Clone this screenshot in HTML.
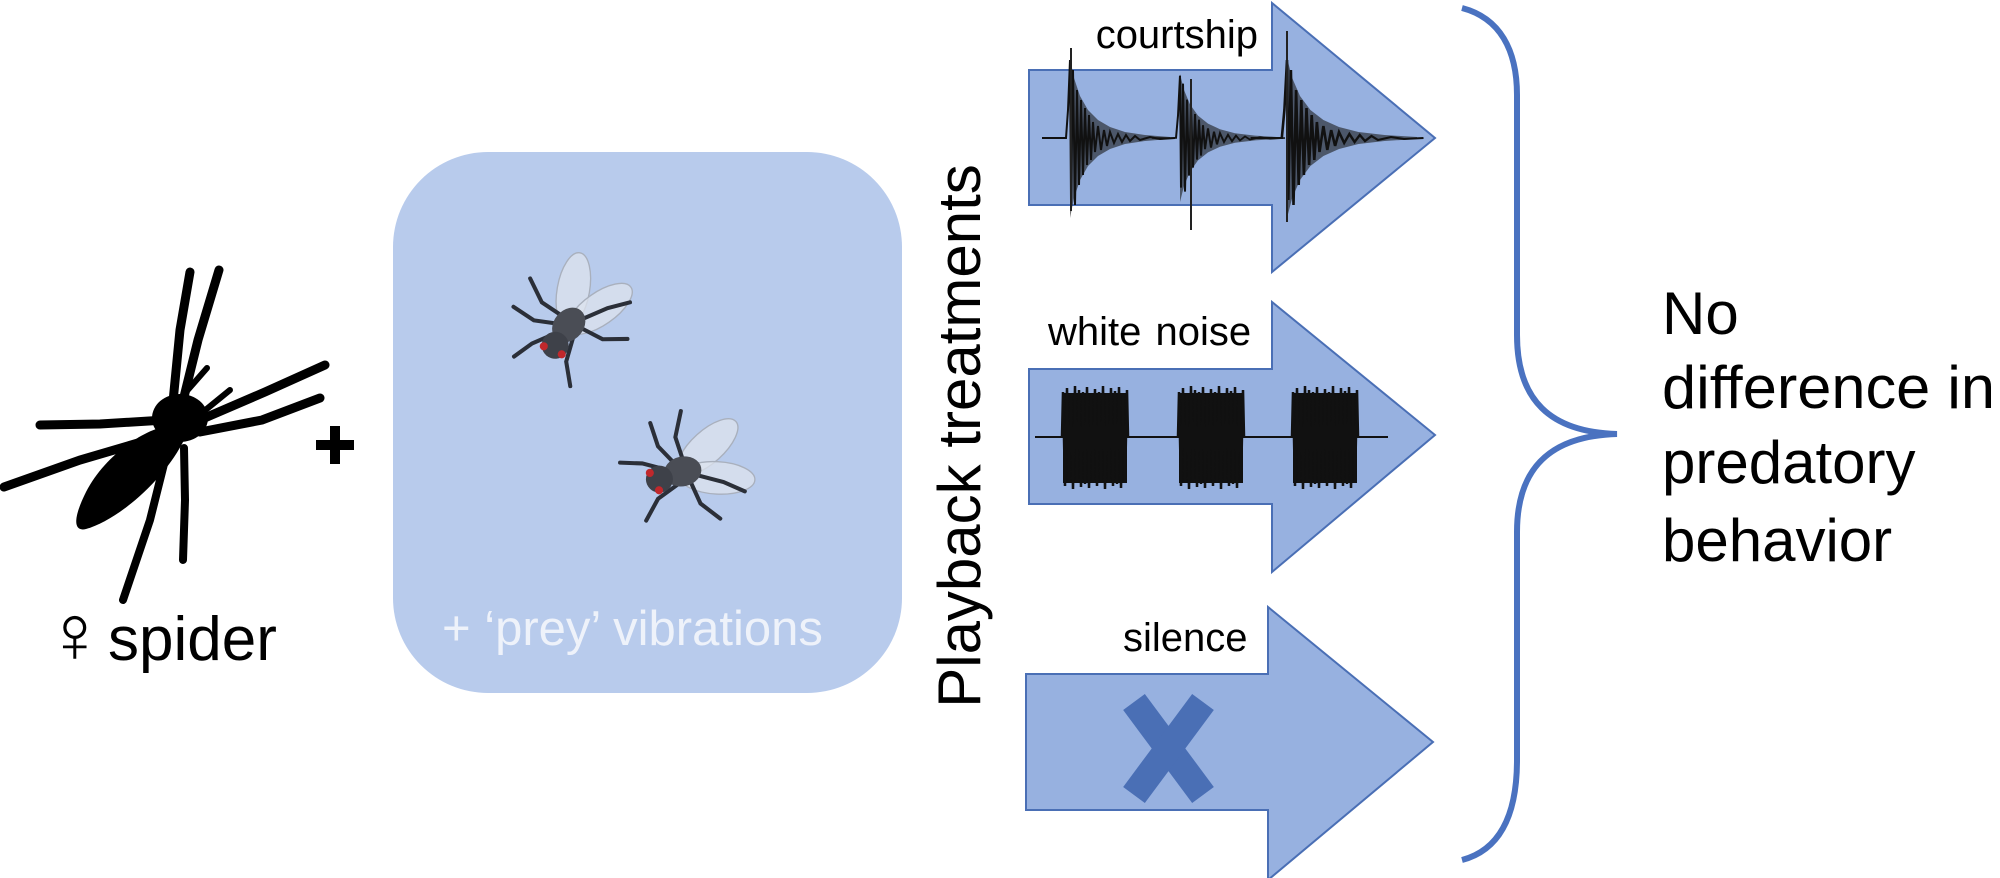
<!DOCTYPE html>
<html><head><meta charset="utf-8"><style>
html,body{margin:0;padding:0;background:#fff;}
svg{display:block;}
text{font-family:"Liberation Sans",Arial,sans-serif;}
</style></head><body>
<svg width="2000" height="878" viewBox="0 0 2000 878" xmlns="http://www.w3.org/2000/svg">
<defs>
<g id="burst">
  <path d="M0 -80 L4 -60 L10 -42 L18 -28 L28 -18 L40 -11 L55 -6 L75 -3 L100 -1 L100 1 L75 3 L55 6 L40 11 L28 18 L18 28 L10 42 L4 60 L0 80 Z" fill="#1a1a1a" fill-opacity="0.6"/>
  <path d="M-28 0 L-4 0 L-2 -28 L0 -78 L1 62 L3 -68 L5 67 L7 -48 L9 47 L11 -38 L13 37 L15 -30 L17 27 L19 -23 L21 22 L23 -16 L25 14 L28 -12 L31 12 L34 -8 L37 8 L40 -6 L44 5 L48 -4 L52 4 L56 -3 L60 3 L65 -2 L70 2 L80 -1 L90 1 L105 0" fill="none" stroke="#111" stroke-width="2"/>
</g>
<g id="block">
  <rect x="1" y="393" width="64" height="90" fill="#111"/>
  <path d="M0 436 L1 392 L3 486 L5 388 L7 482 L9 395 L11 489 L13 386 L15 480 L17 390 L19 487 L21 392 L23 484 L25 387 L27 488 L29 394 L31 481 L33 389 L35 486 L37 392 L39 483 L41 386 L43 489 L45 393 L47 480 L49 388 L51 486 L53 391 L55 484 L57 387 L59 488 L61 395 L63 482 L65 390 L66 436" fill="none" stroke="#111" stroke-width="2.5"/>
</g>
<g id="fly">
  <ellipse cx="24" cy="-14" rx="28" ry="12" transform="rotate(-30 24 -14)" fill="#dde3ee" fill-opacity="0.75" stroke="#a9b0bd" stroke-width="1"/>
  <ellipse cx="26" cy="10" rx="28" ry="12" transform="rotate(15 26 10)" fill="#dde3ee" fill-opacity="0.75" stroke="#a9b0bd" stroke-width="1"/>
  <g stroke="#2b2f38" stroke-width="3" fill="none" stroke-linecap="round">
    <path d="M-2 -6 L-12 -22 L-14 -40"/>
    <path d="M4 -8 L2 -26 L10 -44"/>
    <path d="M-6 -2 L-26 -12 L-42 -16"/>
    <path d="M-2 8 L-20 16 L-32 30"/>
    <path d="M6 8 L10 26 L22 40"/>
    <path d="M10 4 L30 14 L44 24"/>
  </g>
  <ellipse cx="2" cy="0" rx="14" ry="11" fill="#4a4d55"/>
  <circle cx="-16" cy="2" r="10" fill="#3e4149"/>
  <circle cx="-22" cy="-4" r="3" fill="#c0282c"/>
  <circle cx="-18" cy="10" r="3" fill="#c0282c"/>
</g>
</defs>

<!-- spider -->
<g stroke="#000" stroke-linecap="round" fill="none">
  <path d="M172 412 L180 330 L190 272" stroke-width="9"/>
  <path d="M182 405 L198 340 L219 270" stroke-width="9"/>
  <path d="M186 392 L207 368" stroke-width="6"/>
  <path d="M203 412 L230 390" stroke-width="6"/>
  <path d="M165 420 L100 424 L40 425" stroke-width="9"/>
  <path d="M155 438 L80 460 L4 487" stroke-width="9"/>
  <path d="M200 420 L265 392 L325 365" stroke-width="9"/>
  <path d="M200 432 L262 420 L320 398" stroke-width="9"/>
  <path d="M168 448 L150 520 L123 600" stroke-width="8"/>
  <path d="M184 448 L185 500 L183 560" stroke-width="8"/>
</g>
<ellipse cx="180" cy="418" rx="28" ry="24" fill="#000"/>
<path d="M172 425 C145 428 105 455 86 492 C72 520 74 532 86 529 C118 520 165 480 185 438 Z" fill="#000"/>
<text x="44" y="662" font-size="82" font-family="DejaVu Sans" fill="#000">♀</text>
<text x="108" y="660" font-size="62" fill="#000">spider</text>

<!-- plus -->
<rect x="316" y="440" width="38" height="10" fill="#000"/>
<rect x="330" y="426" width="10" height="38" fill="#000"/>

<!-- rounded box -->
<rect x="393" y="152" width="509" height="541" rx="95" fill="#b8cbec"/>
<use href="#fly" transform="translate(567 327) rotate(-50) scale(1.35)"/>
<use href="#fly" transform="translate(680 472) rotate(-12) scale(1.35)"/>
<text x="442" y="645" font-size="49" fill="#eef2fa">+ ‘prey’ vibrations</text>

<!-- vertical label -->
<text transform="translate(980 436) rotate(-90)" text-anchor="middle" font-size="60" fill="#000">Playback treatments</text>

<!-- arrows -->
<g fill="#97b1e0" stroke="#4a6fb5" stroke-width="2">
  <path d="M1029 70 L1272 70 L1272 3 L1435 138 L1272 272 L1272 205 L1029 205 Z"/>
  <path d="M1029 369 L1272 369 L1272 302 L1435 435 L1272 572 L1272 504 L1029 504 Z"/>
  <path d="M1026 674 L1268 674 L1268 607 L1433 742 L1268 880 L1268 810 L1026 810 Z"/>
</g>
<text x="1258" y="48" text-anchor="end" font-size="40" fill="#000">courtship</text>
<text x="1048" y="345" font-size="40" fill="#000" word-spacing="3">white noise</text>
<text x="1123" y="651" font-size="40" fill="#000">silence</text>

<!-- courtship waveform -->
<use href="#burst" transform="translate(1070 138)"/>
<use href="#burst" transform="translate(1180 138) scale(1 0.8)"/>
<use href="#burst" transform="translate(1287 138) scale(1.3 1)"/>
<line x1="1071" y1="48" x2="1071" y2="211" stroke="#222" stroke-width="2"/>
<line x1="1191" y1="79" x2="1191" y2="230" stroke="#222" stroke-width="2"/>
<line x1="1287" y1="31" x2="1287" y2="222" stroke="#222" stroke-width="2"/>

<!-- white noise -->
<line x1="1035" y1="437" x2="1388" y2="437" stroke="#111" stroke-width="2"/>
<use href="#block" transform="translate(1062 0)"/>
<use href="#block" transform="translate(1178 0)"/>
<use href="#block" transform="translate(1292 0)"/>

<!-- X -->
<g stroke="#4a6fb5" stroke-width="27" stroke-linecap="butt">
  <line x1="1134" y1="702" x2="1203" y2="795"/>
  <line x1="1203" y1="702" x2="1134" y2="795"/>
</g>

<!-- brace -->
<path d="M1462 8 C1500 18 1517 50 1517 95 L1517 335 C1517 400 1550 432 1617 434 C1550 436 1517 468 1517 532 L1517 760 C1517 815 1500 850 1462 860" fill="none" stroke="#4a72c0" stroke-width="6"/>

<g font-size="60" fill="#000">
<text x="1662" y="334">No</text>
<text x="1662" y="408" textLength="333" lengthAdjust="spacingAndGlyphs">difference in</text>
<text x="1662" y="483">predatory</text>
<text x="1662" y="561">behavior</text>
</g>
</svg>
</body></html>
